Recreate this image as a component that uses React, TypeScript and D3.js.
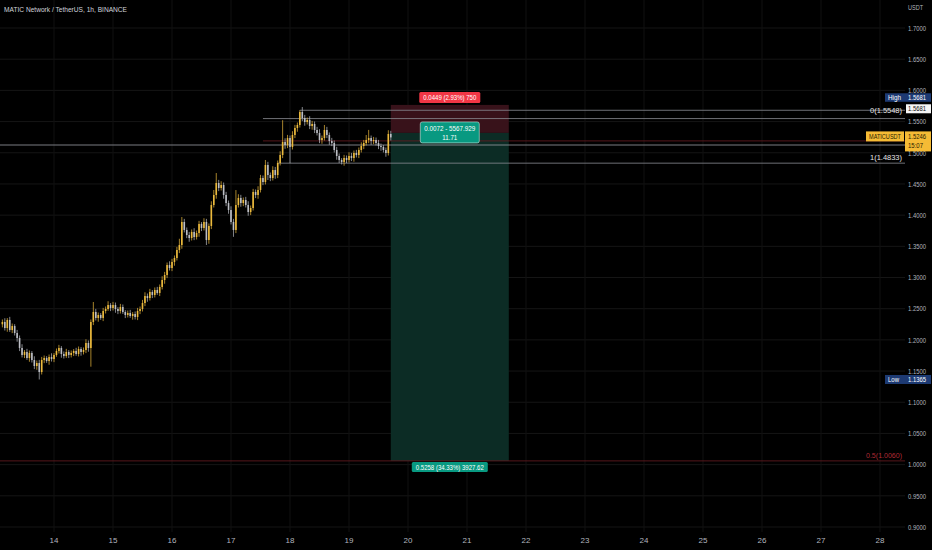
import React from 'react';
import * as d3 from 'd3';

// hourly MATIC/USDT candles starting Mar 13 03:00
const startHour = 3;
const firstOpen = 1.2250;
const closes = [
  1.2287, 1.2190, 1.2319, 1.2158, 1.2222, 1.2110, 1.2030, 1.1870, 1.1758, 1.1806, 1.1709, 1.1790, 1.1677, 1.1581, 1.1629, 1.1485,
  1.1677, 1.1709, 1.1661, 1.1725, 1.1693, 1.1758, 1.1822, 1.1870, 1.1774, 1.1741, 1.1806, 1.1758, 1.1790, 1.1822, 1.1774, 1.1854, 1.1806, 1.1838, 1.1950, 1.1870,
  1.2287, 1.2447, 1.2351, 1.2399, 1.2351, 1.2463, 1.2495, 1.2559, 1.2511, 1.2559, 1.2495, 1.2463, 1.2527, 1.2447, 1.2399, 1.2431, 1.2383, 1.2415, 1.2367, 1.2463,
  1.2495, 1.2591, 1.2703, 1.2671, 1.2768, 1.2720, 1.2800, 1.2752, 1.2848, 1.2960, 1.3040, 1.3200, 1.3152, 1.3249, 1.3313, 1.3441, 1.3521, 1.3890, 1.3762, 1.3681,
  1.3633, 1.3730, 1.3649, 1.3713, 1.3858, 1.3794, 1.3890, 1.3601, 1.3826, 1.4162, 1.4323, 1.4515, 1.4435, 1.4483, 1.4323, 1.4194, 1.4082, 1.3890, 1.3762, 1.4162,
  1.4275, 1.4194, 1.4243, 1.4162, 1.4050, 1.4114, 1.4371, 1.4323, 1.4403, 1.4595, 1.4531, 1.4804, 1.4643, 1.4595, 1.4723, 1.4643, 1.4836, 1.4964, 1.5172, 1.5124,
  1.5236, 1.5092, 1.5285, 1.5397, 1.5445, 1.5653, 1.5557, 1.5493, 1.5525, 1.5429, 1.5461, 1.5365, 1.5317, 1.5204, 1.5236, 1.5365, 1.5285, 1.5188, 1.5156, 1.5044,
  1.4948, 1.4884, 1.4852, 1.4916, 1.4884, 1.4948, 1.4916, 1.4996, 1.4964, 1.5044, 1.5108, 1.5156, 1.5204, 1.5236, 1.5188, 1.5204, 1.5156, 1.5108, 1.5092, 1.5044, 1.4996, 1.5301, 1.5246,
];
// wick lengths above / below the body, in thousandths
const upperWicks = [
  4, 6, 3, 5, 4, 3, 5, 4, 6, 3, 5, 4, 3, 6, 4, 5,
  5, 4, 3, 4, 6, 3, 4, 5, 3, 4, 5, 3, 4, 3, 5, 4, 3, 4, 6, 4,
  4, 16, 5, 4, 3, 5, 4, 6, 3, 5, 4, 3, 5, 4, 3, 4, 5, 3, 4, 5,
  4, 5, 6, 4, 5, 3, 4, 5, 4, 6, 5, 4, 6, 5, 4, 5, 10, 8, 5, 4,
  5, 4, 6, 4, 5, 3, 6, 5, 4, 6, 8, 16, 5, 6, 4, 5, 4, 6, 5, 24,
  6, 5, 4, 5, 6, 4, 5, 4, 6, 5, 4, 8, 5, 4, 6, 5, 4, 6, 35, 6,
  5, 4, 6, 5, 4, 3, 8, 5, 4, 6, 5, 4, 5, 6, 4, 8, 5, 4, 5, 4,
  5, 4, 3, 5, 4, 6, 5, 4, 5, 4, 6, 5, 8, 13, 4, 5, 4, 5, 4, 3, 4, 6, 5,
];
const lowerWicks = [
  5, 4, 6, 3, 5, 4, 6, 5, 4, 5, 3, 6, 4, 5, 6, 12,
  4, 5, 3, 6, 4, 5, 3, 4, 6, 4, 3, 5, 4, 5, 3, 4, 6, 4, 5, 6,
  30, 5, 4, 6, 3, 5, 4, 3, 5, 4, 6, 5, 4, 3, 5, 4, 3, 6, 4, 5,
  5, 4, 5, 6, 4, 5, 4, 3, 5, 4, 6, 5, 4, 5, 6, 4, 5, 6, 4, 5,
  6, 4, 5, 4, 6, 5, 4, 8, 6, 5, 4, 6, 5, 4, 6, 5, 6, 4, 11, 5,
  4, 6, 5, 4, 6, 5, 4, 5, 6, 4, 5, 4, 8, 5, 4, 6, 5, 4, 5, 6,
  5, 26, 4, 5, 6, 4, 5, 6, 4, 5, 6, 5, 4, 5, 6, 4, 5, 6, 5, 4,
  6, 5, 4, 6, 5, 4, 5, 6, 4, 5, 4, 5, 4, 5, 6, 5, 4, 5, 6, 4, 6, 4, 5,
];

const yTicks = ['0.9000', '0.9500', '1.0000', '1.0500', '1.1000', '1.1500', '1.2000', '1.2500', '1.3000', '1.3500', '1.4000', '1.4500', '1.5000', '1.5500', '1.6000', '1.6500', '1.7000'];
const dayTicks = [14, 15, 16, 17, 18, 19, 20, 21, 22, 23, 24, 25, 26, 27, 28];

const highPrice = 1.5681;
const lowPrice = 1.1365;
const lastPrice = 1.5246;
const fib0 = 1.5548;
const fib1 = 1.4833;
const fibMid = 1.5190;
const userLine = 1.5124;
const fibHalf = 1.0060;
const entry = 1.5318;
const stop = 1.5767;
const target = 1.0060;

const W = 932;
const H = 550;
const FONT = "'Liberation Sans Narrow', 'Liberation Sans', Arial, sans-serif";
const UP = '#ecba3d';
const DOWN = '#bcbec5';

const utc = (d: number, h = 0) => new Date(Date.UTC(2023, 2, d, h));

const App = (): JSX.Element => {
  const x = d3.scaleUtc().domain([utc(13), utc(29)]).range([-5, 939]);
  const y = d3.scaleLinear().domain([0.9, 1.7]).range([527, 28]);

  const candles = closes.map((c, i) => {
    const o = i === 0 ? firstOpen : closes[i - 1];
    return {
      t: utc(13, startHour + i),
      o,
      c,
      hi: Math.max(o, c) + upperWicks[i] / 1000,
      lo: Math.min(o, c) - lowerWicks[i] / 1000,
    };
  });

  const posX0 = x(utc(19, 17));
  const posX1 = x(utc(21, 17));
  const posMid = (posX0 + posX1) / 2;
  const axisX = 905;
  const fit = {lengthAdjust: 'spacingAndGlyphs' as const};

  return (
    <svg width={W} height={H} style={{position: 'absolute', left: 0, top: 0, display: 'block'}} fontFamily={FONT}>
      <rect width={W} height={H} fill="#000" />

      {/* grid */}
      {yTicks.map(t => (
        <line key={t} x1={0} x2={axisX} y1={y(+t)} y2={y(+t)} stroke="#151515" strokeWidth={1} />
      ))}
      {dayTicks.map(d => (
        <line key={d} x1={x(utc(d))} x2={x(utc(d))} y1={0} y2={532} stroke="#111" strokeWidth={1} />
      ))}

      {/* position tool */}
      <rect x={posX0} y={y(stop)} width={posX1 - posX0} height={y(entry) - y(stop)} fill="#38121a" />
      <rect x={posX0} y={y(entry)} width={posX1 - posX0} height={y(target) - y(entry)} fill="#0c2c25" />

      {/* drawn levels */}
      <line x1={x(utc(13, startHour + 121))} x2={axisX} y1={y(highPrice)} y2={y(highPrice)} stroke="#8a8c93" strokeWidth={0.8} />
      <line x1={x(utc(13, 109))} x2={axisX} y1={y(fib0)} y2={y(fib0)} stroke="#8a8c93" strokeWidth={0.8} />
      <line x1={x(utc(13, 109))} x2={axisX} y1={y(fibMid)} y2={y(fibMid)} stroke="#6b1c22" strokeWidth={0.8} />
      <line x1={x(utc(13, 115))} x2={axisX} y1={y(fib1)} y2={y(fib1)} stroke="#8a8c93" strokeWidth={0.8} />
      <line x1={0} x2={axisX} y1={y(userLine)} y2={y(userLine)} stroke="#9a9ca3" strokeWidth={0.8} />
      <line x1={0} x2={axisX} y1={y(fibHalf)} y2={y(fibHalf)} stroke="#6b1c22" strokeWidth={0.8} />

      {/* candles */}
      {candles.map((d, i) => {
        const cx = x(d.t);
        const col = d.c >= d.o ? UP : DOWN;
        const top = y(Math.max(d.o, d.c));
        const bot = y(Math.min(d.o, d.c));
        return (
          <g key={i}>
            <line x1={cx} x2={cx} y1={y(d.hi)} y2={y(d.lo)} stroke={col} strokeWidth={0.7} />
            <rect x={cx - 0.8} y={top} width={1.6} height={Math.max(bot - top, 0.7)} fill={col} />
          </g>
        );
      })}

      {/* position labels */}
      <rect x={posMid - 30.5} y={y(stop) - 13} width={61} height={11} rx={1.5} fill="#f23645" />
      <text x={posMid} y={y(stop) - 4.6} textAnchor="middle" fontSize={8} fill="#fff" textLength={53} {...fit}>0.0449 (2.93%) 750</text>
      <rect x={posMid - 29.5} y={y(entry) - 11} width={59} height={21} rx={2} fill="#089981" stroke="#cfe9e2" strokeWidth={0.6} />
      <text x={posMid} y={y(entry) - 2.3} textAnchor="middle" fontSize={8} fill="#fff" textLength={51} {...fit}>0.0072 - 5567.929</text>
      <text x={posMid} y={y(entry) + 6.7} textAnchor="middle" fontSize={8} fill="#fff" textLength={15} {...fit}>11.71</text>
      <rect x={posMid - 38} y={y(target) + 1} width={76} height={10} rx={1.5} fill="#089981" />
      <text x={posMid} y={y(target) + 8.8} textAnchor="middle" fontSize={8} fill="#fff" textLength={68} {...fit}>0.5258 (34.33%) 3927.62</text>

      {/* level texts */}
      <text x={902} y={y(fib0) - 5.5} textAnchor="end" fontSize={8} fill="#e6e6e6" textLength={32} {...fit}>0(1.5548)</text>
      <text x={902} y={y(fib1) - 3} textAnchor="end" fontSize={8} fill="#e6e6e6" textLength={32} {...fit}>1(1.4833)</text>
      <text x={902} y={y(fibHalf) - 3} textAnchor="end" fontSize={8} fill="#b02a35" textLength={36} {...fit}>0.5(1.0060)</text>

      {/* price axis */}
      {yTicks.map(t => (
        <text key={t} x={908} y={y(+t) + 2.8} fontSize={8} fill="#b2b5be" textLength={18} {...fit}>{t}</text>
      ))}
      <text x={908} y={10} fontSize={8} fill="#b2b5be" textLength={15} {...fit}>USDT</text>

      {/* time axis */}
      {dayTicks.map(d => (
        <text key={d} x={x(utc(d))} y={543} textAnchor="middle" fontSize={8} fill="#b2b5be">{d}</text>
      ))}

      {/* axis badges */}
      <rect x={885} y={y(highPrice) - 17} width={46} height={8.5} fill="#1d3a73" />
      <text x={888} y={y(highPrice) - 10.3} fontSize={7.5} fill="#fff" textLength={13} {...fit}>High</text>
      <text x={908} y={y(highPrice) - 10.3} fontSize={7.5} fill="#fff" textLength={18} {...fit}>1.5681</text>
      <rect x={906} y={y(highPrice) - 6} width={25} height={9} fill="#f4f4f4" />
      <text x={908} y={y(highPrice) + 1.2} fontSize={7.5} fill="#111" textLength={18} {...fit}>1.5681</text>

      <rect x={866} y={y(lastPrice) - 6} width={38} height={10} fill="#f5bb35" />
      <text x={885} y={y(lastPrice) + 1.7} textAnchor="middle" fontSize={7.5} fill="#2a2200" textLength={32} {...fit}>MATICUSDT</text>
      <rect x={905} y={y(lastPrice) - 6} width={26} height={20} fill="#f5bb35" />
      <text x={908} y={y(lastPrice) + 1.7} fontSize={7.5} fill="#2a2200" textLength={18} {...fit}>1.5246</text>
      <text x={908} y={y(lastPrice) + 10.7} fontSize={7.5} fill="#2a2200" textLength={15} {...fit}>15:07</text>

      <rect x={885} y={y(lowPrice) - 4.5} width={46} height={9} fill="#1d3a73" />
      <text x={888} y={y(lowPrice) + 2.7} fontSize={7.5} fill="#fff" textLength={11} {...fit}>Low</text>
      <text x={908} y={y(lowPrice) + 2.7} fontSize={7.5} fill="#fff" textLength={18} {...fit}>1.1365</text>

      {/* title */}
      <text x={4} y={12} fontSize={8} fill="#d1d4dc" textLength={123} {...fit}>MATIC Network / TetherUS, 1h, BINANCE</text>
    </svg>
  );
};

export default App;
